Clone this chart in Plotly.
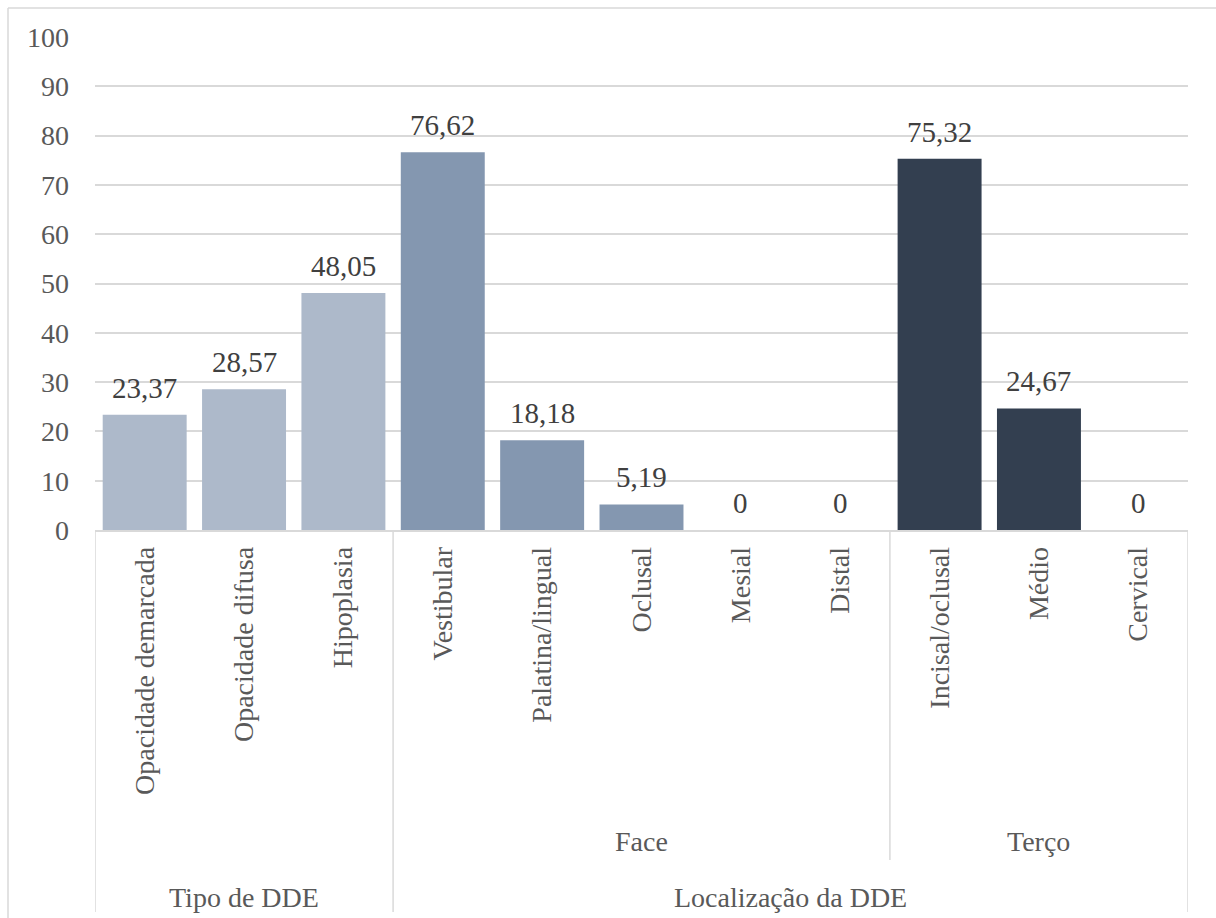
import plotly.graph_objects as go

# ---- data ----
categories = ["Opacidade demarcada", "Opacidade difusa", "Hipoplasia",
              "Vestibular", "Palatina/lingual", "Oclusal", "Mesial", "Distal",
              "Incisal/oclusal", "Médio", "Cervical"]
values = [23.37, 28.57, 48.05,
          76.62, 18.18, 5.19, 0, 0,
          75.32, 24.67, 0]
# sub-groups (level 2): (label, first index, last index)
subgroups = [("", 0, 2), ("Face", 3, 7), ("Terço", 8, 10)]
# top groups (level 3)
topgroups = [("Tipo de DDE", 0, 2), ("Localização da DDE", 3, 10)]
y_ticks = list(range(0, 101, 10))

colors = ["#ADB9CA", "#8497B0", "#333F50"]

FONT = "Times New Roman, Liberation Serif, serif"
W, H = 1216, 918
ML, MR, MT, MB = 95, 28, 37, 388
PW, PH = W - ML - MR, H - MT - MB


def px_x(p):
    return (p - ML) / PW


def px_y(p):
    return (H - MB - p) / PH


def fmt(v):
    s = f"{v:.2f}".rstrip("0").rstrip(".")
    return s.replace(".", ",")


fig = go.Figure()
for (name, a, b), col in zip(subgroups, colors):
    fig.add_trace(go.Bar(
        x=categories[a:b + 1], y=values[a:b + 1],
        marker=dict(color=col, line=dict(width=0)),
        showlegend=False, name=name or "Tipo de DDE",
    ))

shapes = []
line_style = dict(color="#D9D9D9", width=1.5)
# dividers below the category axis
bounds_top = sorted({a - 0.5 for _, a, _ in topgroups} | {b + 0.5 for _, _, b in topgroups})
bounds_sub = sorted({a - 0.5 for _, a, _ in subgroups} | {b + 0.5 for _, _, b in subgroups})
for xb in bounds_sub:
    y_end = px_y(912) if xb in bounds_top else px_y(860)
    shapes.append(dict(type="line", xref="x", yref="paper", x0=xb, x1=xb,
                       y0=0, y1=y_end, line=line_style))
# outer chart border (top & left)
shapes.append(dict(type="line", xref="paper", yref="paper", x0=px_x(8), x1=px_x(1216),
                   y0=px_y(8), y1=px_y(8), line=line_style))
shapes.append(dict(type="line", xref="paper", yref="paper", x0=px_x(8), x1=px_x(8),
                   y0=px_y(8), y1=px_y(918), line=line_style))

annotations = []
# data labels
for c, v in zip(categories, values):
    annotations.append(dict(text=fmt(v), x=c, xref="x", y=v, yref="y",
                            showarrow=False, yanchor="bottom", yshift=9,
                            font=dict(family=FONT, size=29, color="#404040")))
for name, a, b in subgroups:
    if name:
        annotations.append(dict(text=name, x=(a + b) / 2, xref="x", y=px_y(842), yref="paper",
                                showarrow=False, yanchor="middle",
                                font=dict(family=FONT, size=28, color="#595959")))
for name, a, b in topgroups:
    annotations.append(dict(text=name, x=(a + b) / 2, xref="x", y=px_y(897), yref="paper",
                            showarrow=False, yanchor="middle",
                            font=dict(family=FONT, size=28, color="#595959")))

fig.update_layout(
    width=W, height=H, margin=dict(l=ML, r=MR, t=MT, b=MB),
    paper_bgcolor="white", plot_bgcolor="white",
    barmode="overlay", bargap=0.155,
    shapes=shapes, annotations=annotations,
    xaxis=dict(type="category", categoryorder="array", categoryarray=categories,
               tickangle=-90, tickfont=dict(family=FONT, size=28, color="#595959"),
               showline=True, linecolor="#D9D9D9", linewidth=1.5, showgrid=False,
               ticks="", ticklabelstandoff=4, range=[-0.5, len(categories) - 0.5]),
    yaxis=dict(range=[0, 100], tickvals=y_ticks, showgrid=True, gridcolor="#D9D9D9",
               gridwidth=1.5, zeroline=False, showline=False, ticks="",
               tickfont=dict(family=FONT, size=28, color="#595959"),
               ticklabelstandoff=25),
)

fig.write_html("out.html")
